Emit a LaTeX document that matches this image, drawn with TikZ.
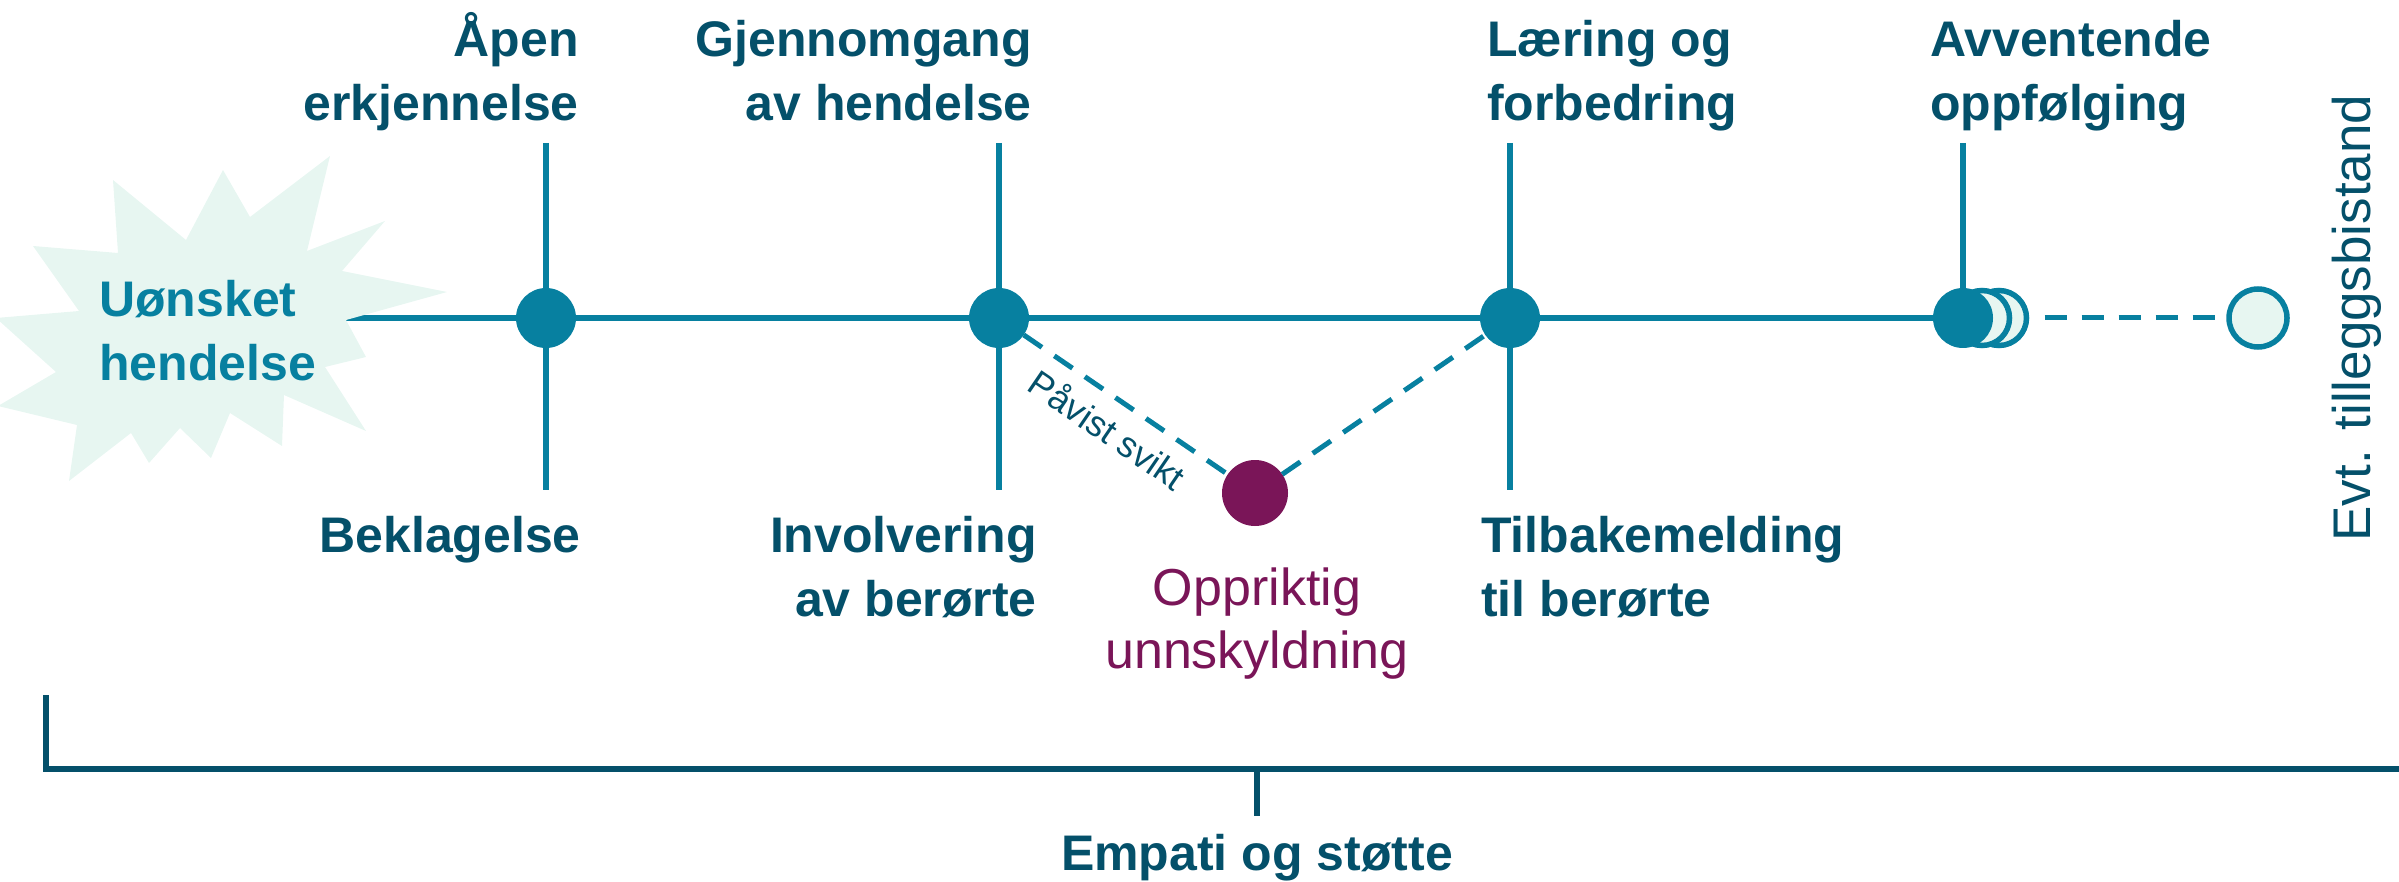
\documentclass[tikz,border=0pt]{standalone}
\usepackage{fontspec}
\setmainfont{Liberation Sans}
\definecolor{lineteal}{HTML}{0780A0}
\definecolor{inkteal}{HTML}{04506A}
\definecolor{plum}{HTML}{7A1558}
\definecolor{mint}{HTML}{E7F6F1}
\begin{document}
\begin{tikzpicture}[x=1pt,y=-1pt,
  axis/.style={draw=lineteal, line width=5.5pt},
  dot/.style={circle, fill=lineteal, minimum size=60pt, inner sep=0pt, outer sep=0pt},
  ring/.style={circle, fill=mint, draw=lineteal, line width=5.5pt, minimum size=55pt, inner sep=0pt, outer sep=0pt},
  apology/.style={circle, fill=plum, minimum size=66pt, inner sep=0pt, outer sep=0pt},
  dashlink/.style={draw=lineteal, line width=5pt, dash pattern=on 22pt off 15pt},
  stage/.style={text=inkteal, font=\fontsize{50}{64}\selectfont\bfseries, inner sep=0pt},
  bracket/.style={draw=inkteal, line width=5.5pt}]
\useasboundingbox (0,0) rectangle (2399,882);

% timeline anchor points (the base anchor of a two-line label is its last line)
\coordinate (start) at (300,318);
\coordinate (t1) at (546,143);  \coordinate (b1) at (546,490);
\coordinate (t2) at (999,143);  \coordinate (b2) at (999,490);
\coordinate (t3) at (1510,143); \coordinate (b3) at (1510,490);
\coordinate (t4) at (1963,143);

% timeline and cross ticks
\draw[axis] (start) -- (1963,318) coordinate (end);
\draw[axis] (t1) -- (b1);
\draw[axis] (t2) -- (b2);
\draw[axis] (t3) -- (b3);
\draw[axis] (t4) -- (end);

% starburst at the start of the timeline
\fill[mint] (113,180) -- (186,240) -- (223,170) -- (250,217) -- (330,156)
  -- (307,251) -- (385,221) -- (342,271) -- (447,292) -- (346,320)
  -- (366,357) -- (325,367) -- (366,431) -- (284,395) -- (282,446)
  -- (230,413) -- (211,458) -- (180,428) -- (149,463) -- (131,433)
  -- (69,481) -- (77,425) -- (-2,406) -- (56,372) -- (-4,318)
  -- (79,311) -- (33,246) -- (118,253) -- cycle;
\node[text=lineteal, font=\fontsize{50}{64}\selectfont\bfseries, inner sep=0pt,
  align=left, anchor=base west] (event) at (99,381) {Uønsket\\hendelse};

% stacked follow-up circles and the optional extra step
\node[ring] (r3) at (1999,318) {};
\node[ring] (r2) at (1982,318) {};
\node[ring, minimum size=58pt] (extra) at (2258,318) {};
\draw[dashlink, shorten <=18pt, shorten >=13pt] (r3) -- (extra);

% milestone dots
\node[dot] (d1) at (546,318) {};
\node[dot] (d2) at (999,318) {};
\node[dot] (d3) at (1510,318) {};
\node[dot] (d4) at (1963,318) {};
\node[apology] (ap) at (1255,493) {};
\draw[dashlink] (d2) -- (ap);
\draw[dashlink] (ap) -- (d3);

\node[text=inkteal, font=\fontsize{36}{44}\selectfont, rotate=-34.4, inner sep=0pt]
  (fail) at (1108,429) {Påvist svikt};

% labels above the timeline
\node[stage, align=right, anchor=base east] (l1) at (579,121) {Åpen\\erkjennelse};
\node[stage, align=right, anchor=base east] (l2) at (1032,121) {Gjennomgang\\av hendelse};
\node[stage, align=left, anchor=base west] (l3) at (1487,121) {Læring og\\forbedring};
\node[stage, align=left, anchor=base west] (l4) at (1930,121) {Avventende\\oppfølging};

% labels below the timeline
\node[stage, anchor=base east] (u1) at (581,552) {Beklagelse};
\node[stage, align=right, anchor=base east] (u2) at (1037,616) {Involvering\\av berørte};
\node[stage, align=left, anchor=base west] (u3) at (1481,616) {Tilbakemelding\\til berørte};
\node[text=plum, font=\fontsize{52}{63}\selectfont, inner sep=0pt, align=center,
  anchor=base] (u4) at (1257,668) {Oppriktig\\unnskyldning};

\node[text=inkteal, font=\fontsize{53}{64}\selectfont, rotate=90, inner sep=0pt,
  anchor=base] (evt) at (2370,318) {Evt. tilleggsbistand};

% support bracket along the bottom
\coordinate (bl) at (46,695);
\coordinate (br) at (2399,769);
\coordinate (mid) at (1257,769);
\coordinate (tick) at (1257,816);
\draw[bracket] (bl) |- (br);
\draw[bracket] (mid) -- (tick);
\node[stage, anchor=base] (support) at (1257,870) {Empati og støtte};
\end{tikzpicture}
\end{document}
